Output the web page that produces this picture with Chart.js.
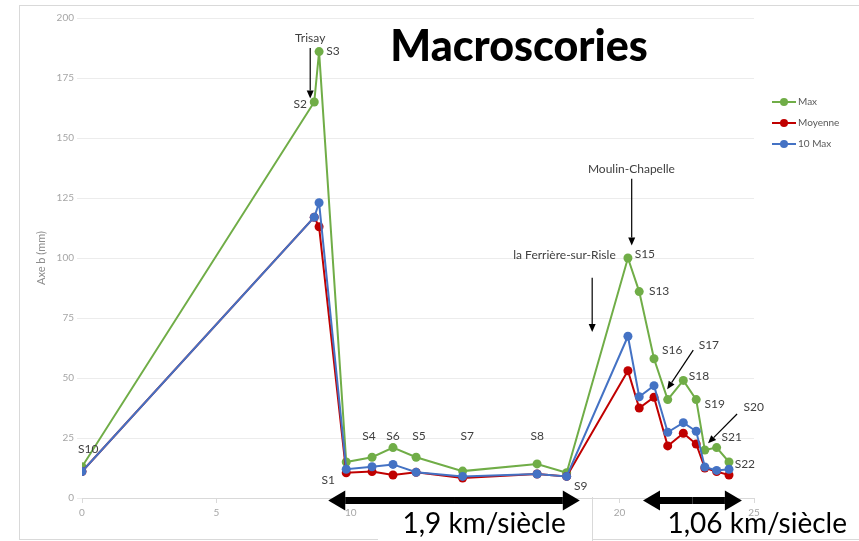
<!DOCTYPE html>
<html>
<head>
<meta charset="utf-8">
<script src="https://cdn.jsdelivr.net/npm/chart.js@4"></script>
<style>
  html, body { margin: 0; padding: 0; background: #fff; }
  #wrap { width: 859px; height: 541px; }
</style>
</head>
<body>
<div id="wrap"><canvas id="chart"></canvas></div>
<script>
// Données (distance en x, axe b en mm)
const stations = ["S10", "S2", "S3", "S1", "S4", "S6", "S5", "S7", "S8", "S9",
  "S15", "S13", "S16", "S17", "S18", "S19", "S20", "S21", "S22"];
const distance = [0, 8.64, 8.82, 9.83, 10.79, 11.57, 12.43, 14.16, 16.93, 18.03,
  20.31, 20.73, 21.28, 21.79, 22.37, 22.85, 23.17, 23.61, 24.07];
const maxValues = [13, 165, 186, 15, 17, 21, 17, 11.2, 14.2, 10.5,
  100, 86, 58, 41, 49, 41, 20, 21, 15];
const moyenneValues = [11, 117, 113, 10.5, 11, 9.6, 10.7, 8.3, 10, 9,
  53, 37.5, 42, 21.7, 27, 22.5, 12.5, 11, 9.6];
const tenMaxValues = [11, 117, 123, 12, 13, 14, 10.7, 9, 10, 9,
  67.4, 42.2, 46.8, 27.4, 31.4, 27.8, 12.9, 11.5, 12];

const xTicks = [0, 5, 10, 15, 20, 25];
const yTicks = [0, 25, 50, 75, 100, 125, 150, 175, 200];

// Étiquettes : [texte, x, y] en coordonnées des données
const pointLabels = [
  ["Trisay", 8.49, 191.5], ["S3", 9.34, 186.3], ["S2", 8.12, 164.2],
  ["S10", 0.23, 20.3], ["S1", 9.16, 7.6], ["S4", 10.68, 25.6],
  ["S6", 11.57, 25.6], ["S5", 12.54, 25.6], ["S7", 14.33, 25.6],
  ["S8", 16.94, 25.6], ["S9", 18.55, 4.8], ["S15", 20.94, 101.7],
  ["S13", 21.47, 86.2], ["S16", 21.96, 61.6], ["S17", 23.32, 63.7],
  ["S18", 22.95, 50.8], ["S19", 23.54, 39], ["S20", 24.99, 38],
  ["S21", 24.17, 25.2], ["S22", 24.66, 14.2],
  ["Moulin-Chapelle", 20.44, 137.2], ["la Ferrière-sur-Risle", 17.95, 101]
];
// Flèches fines : [x1, y1, x2, y2] (pointe en x2, y2)
const thinArrows = [
  [8.49, 187.5, 8.49, 166.5],
  [20.45, 133, 20.45, 105.2],
  [18.98, 91.8, 18.98, 69.2],
  [22.74, 61.6, 21.77, 45.3],
  [24.37, 35, 23.29, 22.8]
];
// Doubles flèches et vitesses
const speedArrows = [[9.16, 18.52, -1], [20.87, 24.55, -1]];
const speedTexts = [["1,9 km/siècle", 14.96, -14.4], ["1,06 km/siècle", 25.12, -14.4]];

const GREEN = "#70ad47", RED = "#c00000", BLUE = "#4472c4";

function toPoints(values) {
  return values.map((v, i) => ({ x: distance[i], y: v }));
}

function arrow(ctx, x1, y1, x2, y2, len, half, lw) {
  const a = Math.atan2(y2 - y1, x2 - x1);
  const bx = x2 - len * Math.cos(a), by = y2 - len * Math.sin(a);
  ctx.lineWidth = lw;
  ctx.beginPath(); ctx.moveTo(x1, y1); ctx.lineTo(bx, by); ctx.stroke();
  ctx.beginPath();
  ctx.moveTo(x2, y2);
  ctx.lineTo(bx + half * Math.sin(a), by - half * Math.cos(a));
  ctx.lineTo(bx - half * Math.sin(a), by + half * Math.cos(a));
  ctx.closePath(); ctx.fill();
}

const decor = {
  id: "decor",
  beforeDraw(chart) {
    const ctx = chart.ctx;
    ctx.save();
    ctx.fillStyle = "#fff";
    ctx.fillRect(0, 0, chart.width, chart.height);
    ctx.strokeStyle = "#d9d9d9";
    ctx.lineWidth = 1;
    ctx.strokeRect(19.5, 5.5, 850, 534);
    ctx.restore();
  },
  afterDraw(chart) {
    const ctx = chart.ctx;
    const xs = chart.scales.x, ys = chart.scales.y;
    const px = v => xs.getPixelForValue(v), py = v => ys.getPixelForValue(v);
    ctx.save();

    // Légende
    const legend = [["Max", GREEN], ["Moyenne", RED], ["10 Max", BLUE]];
    ctx.font = "10px Lato";
    ctx.textBaseline = "middle";
    legend.forEach(([name, col], i) => {
      const y = 102 + i * 21;
      ctx.strokeStyle = col; ctx.fillStyle = col; ctx.lineWidth = 2;
      ctx.beginPath(); ctx.moveTo(772, y); ctx.lineTo(796, y); ctx.stroke();
      ctx.beginPath(); ctx.arc(784, y, 4, 0, Math.PI * 2); ctx.fill();
      ctx.fillStyle = "#595959";
      ctx.fillText(name, 798, y);
    });

    // Étiquettes des stations
    ctx.font = "12px Lato";
    ctx.fillStyle = "#404040";
    ctx.textAlign = "center";
    pointLabels.forEach(([t, x, y]) => ctx.fillText(t, px(x), py(y)));

    // Flèches fines
    ctx.strokeStyle = "#000"; ctx.fillStyle = "#000";
    thinArrows.forEach(([x1, y1, x2, y2]) => arrow(ctx, px(x1), py(y1), px(x2), py(y2), 8, 3.5, 1.2));

    // Boîte blanche sous la première vitesse
    ctx.fillStyle = "#fff";
    ctx.fillRect(378, 505, 215, 36);
    ctx.strokeStyle = "#d9d9d9"; ctx.lineWidth = 1;
    ctx.beginPath(); ctx.moveTo(592.5, 497); ctx.lineTo(592.5, 541); ctx.stroke();

    // Doubles flèches
    ctx.strokeStyle = "#000"; ctx.fillStyle = "#000";
    speedArrows.forEach(([a, b, y]) => {
      const xa = px(a), xb = px(b), yy = py(y), mid = (xa + xb) / 2;
      arrow(ctx, mid, yy, xa, yy, 17, 10, 7);
      arrow(ctx, mid, yy, xb, yy, 17, 10, 7);
    });

    ctx.font = "28px Lato";
    ctx.textBaseline = "alphabetic";
    speedTexts.forEach(([t, x, y]) => ctx.fillText(t, px(x), py(y)));

    // Titre
    ctx.font = "900 43px Lato";
    ctx.fillText("Macroscories", 519, 61);
    ctx.restore();
  }
};

new Chart(document.getElementById("chart"), {
  type: "scatter",
  data: {
    datasets: [
      { label: "Max", data: toPoints(maxValues), borderColor: GREEN, backgroundColor: GREEN, order: 2 },
      { label: "Moyenne", data: toPoints(moyenneValues), borderColor: RED, backgroundColor: RED, order: 1 },
      { label: "10 Max", data: toPoints(tenMaxValues), borderColor: BLUE, backgroundColor: BLUE, order: 0 }
    ]
  },
  options: {
    responsive: true,
    maintainAspectRatio: false,
    animation: false,
    showLine: true,
    elements: {
      line: { borderWidth: 2, tension: 0 },
      point: { radius: 4.5, borderWidth: 0, hoverRadius: 4.5 }
    },
    layout: { padding: { left: 0, top: 18, right: 105, bottom: 0 } },
    plugins: { legend: { display: false }, tooltip: { enabled: false } },
    scales: {
      x: {
        type: "linear", min: 0, max: 25,
        afterBuildTicks: s => { s.ticks = xTicks.map(v => ({ value: v })); },
        afterFit: s => { s.height = 43; },
        grid: { drawOnChartArea: false, drawTicks: true, tickLength: 5, color: "#d9d9d9" },
        border: { color: "#d9d9d9" },
        ticks: { color: "#a6a6a6", font: { family: "Lato", size: 10 }, padding: 4 }
      },
      y: {
        min: 0, max: 200,
        afterBuildTicks: s => { s.ticks = yTicks.map(v => ({ value: v })); },
        afterFit: s => { s.width = 82; },
        grid: { color: "#ececec", tickLength: 5 },
        border: { display: false },
        ticks: { color: "#a6a6a6", font: { family: "Lato", size: 10 }, padding: 3 },
        title: {
          display: true, text: "Axe b (mm)", color: "#8c8c8c",
          font: { family: "Lato", size: 11 }, padding: { top: 35, bottom: 0 }
        }
      }
    }
  },
  plugins: [decor]
});
</script>
</body>
</html>
